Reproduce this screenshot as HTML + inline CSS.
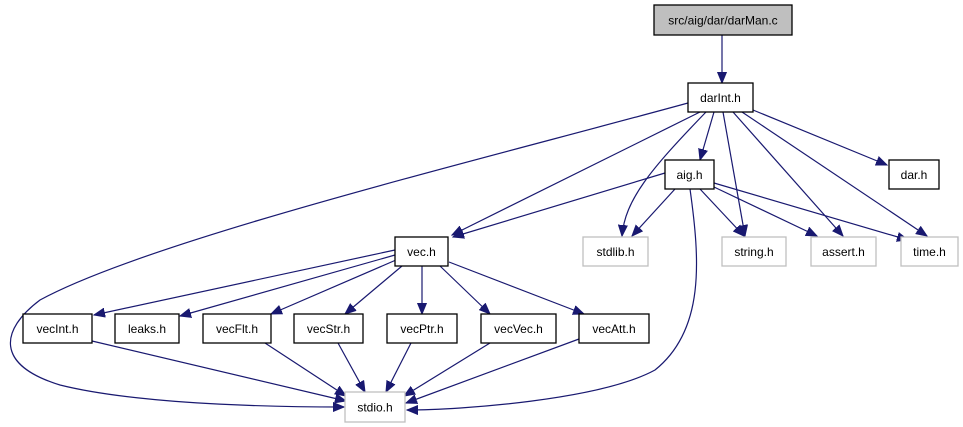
<!DOCTYPE html>
<html><head><meta charset="utf-8"><style>
html,body{margin:0;padding:0;background:#fff;}
svg{display:block;}
text{font-family:"Liberation Sans",sans-serif;font-size:12px;fill:#000;text-anchor:middle;}
.e{fill:none;stroke:#191970;stroke-width:1.2;}
.n{fill:#fff;stroke:#000;stroke-width:1.3;}
.g{fill:#fff;stroke:#bfbfbf;stroke-width:1.3;}
</style></head><body>
<svg width="963" height="427" viewBox="0 0 963 427" xmlns="http://www.w3.org/2000/svg">
<defs><marker id="a" markerWidth="12" markerHeight="10" refX="11" refY="5" orient="auto" markerUnits="userSpaceOnUse"><path d="M0,0.5 L11,5 L0,9.5 z" fill="#191970" stroke="#191970"/></marker></defs>
<g marker-end="url(#a)">
<path class="e" d="M722,35 L722,83"/>
<path class="e" d="M688,103 C480,160 150,240 40,300 C0,330 -5,365 60,385 C140,405 280,407 344,407"/>
<path class="e" d="M700,112 L452,235"/>
<path class="e" d="M706,112 C650,170 625,200 622,236"/>
<path class="e" d="M714,112 L700,160"/>
<path class="e" d="M723,112 L745,236"/>
<path class="e" d="M733,112 L843,236"/>
<path class="e" d="M742,112 L927,236"/>
<path class="e" d="M753,110 L887,165"/>
<path class="e" d="M665,173 L453,237"/>
<path class="e" d="M675,189 L632,236"/>
<path class="e" d="M690,189 C700,260 705,330 655,370 C600,400 460,410 407,410"/>
<path class="e" d="M700,189 L744,236"/>
<path class="e" d="M714,187 L817,236"/>
<path class="e" d="M714,183 L908,240"/>
<path class="e" d="M395,250 L94,315"/>
<path class="e" d="M395,255 L180,316"/>
<path class="e" d="M396,260 L271,314"/>
<path class="e" d="M402,266 L345,314"/>
<path class="e" d="M422,266 L422,314"/>
<path class="e" d="M440,266 L490,314"/>
<path class="e" d="M449,262 L584,314"/>
<path class="e" d="M92,341 L346,401"/>
<path class="e" d="M265,343 L346,396"/>
<path class="e" d="M338,343 L365,392"/>
<path class="e" d="M411,343 L386,392"/>
<path class="e" d="M490,343 L404,396"/>
<path class="e" d="M579,339 L406,403"/>
</g>
<rect x="654" y="5" width="138" height="30" style="fill:#bfbfbf;stroke:#000;stroke-width:1.3"/><text x="723" y="24.5">src/aig/dar/darMan.c</text>
<rect class="n" x="688" y="83" width="65" height="29"/><text x="720.5" y="102">darInt.h</text>
<rect class="n" x="665" y="160" width="49" height="29"/><text x="689.5" y="179">aig.h</text>
<rect class="n" x="889" y="160" width="50" height="29"/><text x="914" y="179">dar.h</text>
<rect class="n" x="395" y="237" width="53" height="29"/><text x="421.5" y="256">vec.h</text>
<rect class="g" x="583" y="237" width="65" height="29"/><text x="615.5" y="256">stdlib.h</text>
<rect class="g" x="722" y="237" width="64" height="29"/><text x="754" y="256">string.h</text>
<rect class="g" x="811" y="237" width="65" height="29"/><text x="843.5" y="256">assert.h</text>
<rect class="g" x="901" y="237" width="57" height="29"/><text x="929.5" y="256">time.h</text>
<rect class="n" x="23" y="314" width="69" height="29"/><text x="57.5" y="333">vecInt.h</text>
<rect class="n" x="115" y="314" width="64" height="29"/><text x="147" y="333">leaks.h</text>
<rect class="n" x="203" y="314" width="68" height="29"/><text x="237" y="333">vecFlt.h</text>
<rect class="n" x="294" y="314" width="69" height="29"/><text x="328.5" y="333">vecStr.h</text>
<rect class="n" x="387" y="314" width="70" height="29"/><text x="422" y="333">vecPtr.h</text>
<rect class="n" x="481" y="314" width="75" height="29"/><text x="518.5" y="333">vecVec.h</text>
<rect class="n" x="579" y="314" width="70" height="29"/><text x="614" y="333">vecAtt.h</text>
<rect class="g" x="345" y="392" width="60" height="30"/><text x="375" y="411.5">stdio.h</text>
</svg>
</body></html>
